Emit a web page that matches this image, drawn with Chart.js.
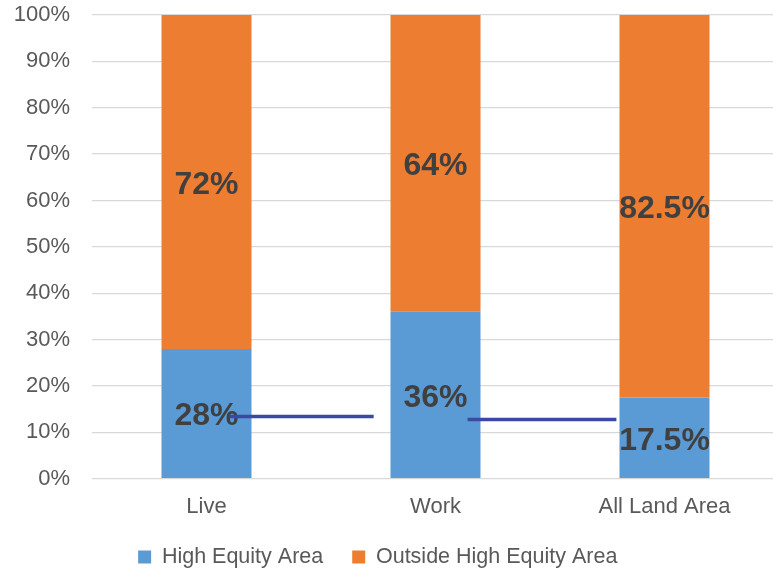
<!DOCTYPE html>
<html>
<head>
<meta charset="utf-8">
<script src="https://cdn.jsdelivr.net/npm/chart.js@4/dist/chart.umd.min.js"></script>
<style>
  html, body { margin: 0; padding: 0; background: #fff; overflow: hidden; }
  /* the plot area runs a few pixels past the right edge of the window, as in the original */
  #wrap { width: 779px; height: 570px; }
</style>
</head>
<body>
<div id="wrap"><canvas id="chart"></canvas></div>
<script>
// ---- data ----
const categorias = ["Live", "Work", "All Land Area"];
const serieAlta = [28, 36, 17.5];
const serieFuera = [72, 64, 82.5];
const etiquetasAlta = ["28%", "36%", "17.5%"];
const etiquetasFuera = ["72%", "64%", "82.5%"];
// connector segments (x in category index units, y in %)
const lineaX = [0.1, 0.73, null, 1.14, 1.79];
const lineaY = [13.4, 13.4, null, 12.8, 12.8];

const FONT = "'Liberation Sans', Arial, sans-serif";

// labels drawn right after each bar dataset, so the line goes on top
const etiquetasPlugin = {
    id: "etiquetas",
    afterDatasetDraw(chart, args) {
        const textos = args.index === 0 ? etiquetasAlta : args.index === 1 ? etiquetasFuera : null;
        if (!textos) return;
        const ctx = chart.ctx;
        ctx.save();
        ctx.font = "bold 32px " + FONT;
        ctx.fillStyle = "#404040";
        ctx.textAlign = "center";
        ctx.textBaseline = "middle";
        args.meta.data.forEach((bar, i) => {
            const p = bar.getProps(["x", "y", "base"], true);
            ctx.fillText(textos[i], p.x, (p.y + p.base) / 2 + 3);
        });
        ctx.restore();
    }
};

new Chart(document.getElementById("chart"), {
    type: "bar",
    data: {
        labels: categorias,
        datasets: [
            {
                label: "High Equity Area",
                data: serieAlta,
                backgroundColor: "#5B9BD5",
                grouped: false,
                categoryPercentage: 1,
                barPercentage: 0.393
            },
            {
                label: "Outside High Equity Area",
                data: serieFuera,
                backgroundColor: "#ED7D31",
                grouped: false,
                categoryPercentage: 1,
                barPercentage: 0.393
            },
            {
                type: "line",
                label: "linea",
                data: lineaX.map((x, i) => ({ x: x, y: lineaY[i] })),
                xAxisID: "xLinea",
                borderColor: "#3A4AA2",
                borderWidth: 3.5,
                pointRadius: 0,
                spanGaps: false,
                order: -1
            }
        ]
    },
    options: {
        responsive: true,
        maintainAspectRatio: false,
        animation: false,
        layout: { padding: { left: -23.5, right: 0, top: 15, bottom: -7.75 } },
        plugins: {
            legend: {
                position: "bottom",
                labels: {
                    filter: item => item.datasetIndex < 2,
                    boxWidth: 13,
                    boxHeight: 13,
                    padding: 29,
                    color: "#595959",
                    font: { family: FONT, size: 21.5 }
                }
            },
            tooltip: { enabled: false }
        },
        scales: {
            x: {
                stacked: true,
                grid: { display: false },
                border: { display: false },
                ticks: { color: "#595959", padding: 7, font: { family: FONT, size: 22 } },
                afterFit: s => { s.height = 38.5; s.paddingLeft = 0; s.paddingRight = 0; }
            },
            xLinea: {
                type: "linear",
                min: -0.5,
                max: 2.5,
                offset: false,
                display: false
            },
            y: {
                stacked: true,
                min: 0,
                max: 100,
                border: { display: false },
                grid: { color: "#d9d9d9", lineWidth: 1.3, drawTicks: false },
                ticks: {
                    stepSize: 10,
                    padding: 22,
                    color: "#595959",
                    font: { family: FONT, size: 22 },
                    callback: v => v + "%"
                },
                afterFit: s => { s.width = 115.5; s.paddingTop = 0; s.paddingBottom = 0; }
            }
        }
    },
    plugins: [etiquetasPlugin]
});
</script>
</body>
</html>
